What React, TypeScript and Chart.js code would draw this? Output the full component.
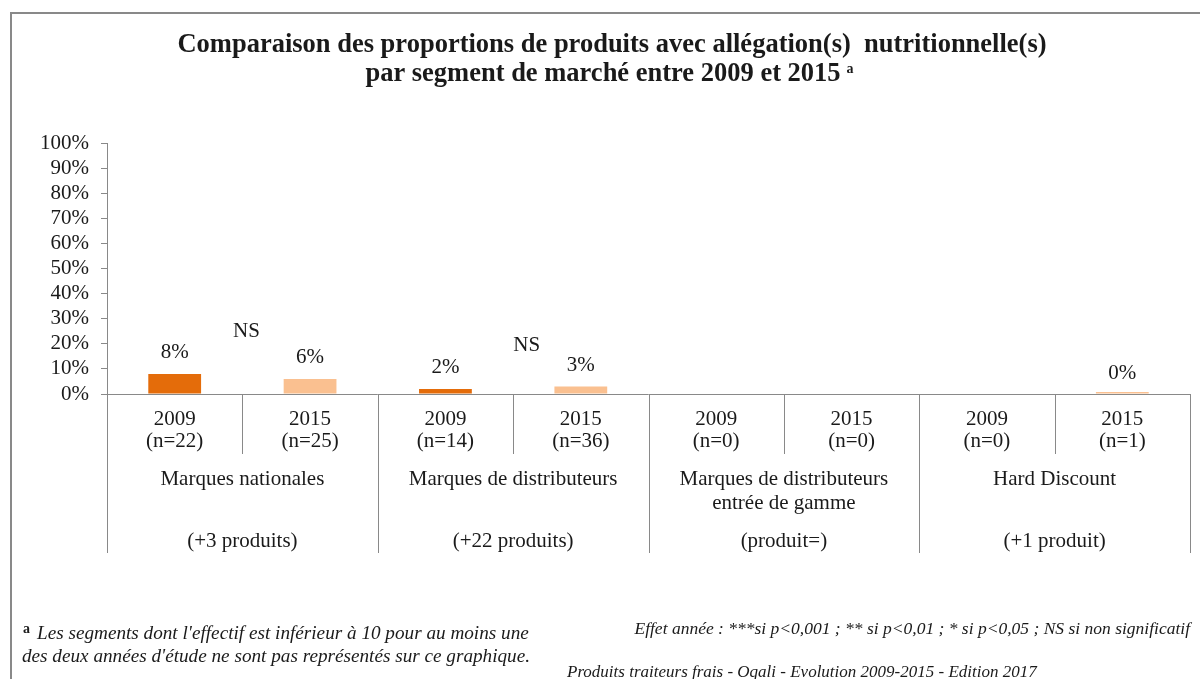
import React, { useEffect, useRef } from "react";
import { Chart, registerables } from "chart.js";

Chart.register(...registerables);

const categories = ["2009", "2015", "2009", "2015", "2009", "2015", "2009", "2015"];
const sampleSizes = ["(n=22)", "(n=25)", "(n=14)", "(n=36)", "(n=0)", "(n=0)", "(n=0)", "(n=1)"];
const values: (number | null)[] = [8, 6, 2, 3, null, null, null, 0];
const groupNames: string[][] = [
  ["Marques nationales"],
  ["Marques de distributeurs"],
  ["Marques de distributeurs", "entrée de gamme"],
  ["Hard Discount"],
];
const groupChanges = ["(+3 produits)", "(+22 produits)", "(produit=)", "(+1 produit)"];
const nsLabels = ["NS", "NS"];
const nsIndex = [0.53, 2.6];
const nsValue = [25, 19.5];
const yTickStep = 10;
const yMax = 100;

const DARK = "#E46C0A";
const LIGHT = "#FAC090";
const AXIS = "#898989";
const TEXT = "#1a1a1a";
const SERIF = "'Liberation Serif', serif";

const titleLines = [
  "Comparaison des proportions de produits avec allégation(s)  nutritionnelle(s)",
  "par segment de marché entre 2009 et 2015",
];
const footLeft = [
  "Les segments dont l'effectif est inférieur à 10 pour au moins une",
  "des deux années d'étude ne sont pas représentés sur ce graphique.",
];
const footRight = "Effet année : ***si p<0,001 ; ** si p<0,01 ; * si p<0,05 ; NS si non significatif";
const footSource = "Produits traiteurs frais - Oqali - Evolution 2009-2015 - Edition 2017";

const overlay = {
  id: "overlay",
  afterDraw(chart: any) {
    const ctx = chart.ctx;
    const x = chart.scales.x;
    const y = chart.scales.y;
    const area = chart.chartArea;
    const bottom = area.bottom;
    ctx.save();

    // border
    ctx.strokeStyle = AXIS;
    ctx.lineWidth = 2;
    ctx.beginPath();
    ctx.moveTo(11, 700);
    ctx.lineTo(11, 13);
    ctx.lineTo(1210, 13);
    ctx.stroke();

    // title
    ctx.fillStyle = TEXT;
    ctx.textBaseline = "middle";
    ctx.textAlign = "center";
    ctx.font = `bold 26.5px ${SERIF}`;
    ctx.fillText(titleLines[0], 612, 45);
    const w2 = ctx.measureText(titleLines[1]).width;
    ctx.fillText(titleLines[1], 603, 74);
    ctx.font = `bold 14px ${SERIF}`;
    ctx.textAlign = "left";
    ctx.fillText("a", 603 + w2 / 2 + 6, 69);

    // x axis line
    ctx.strokeStyle = AXIS;
    ctx.lineWidth = 1;
    ctx.beginPath();
    ctx.moveTo(area.left, bottom + 0.5);
    ctx.lineTo(area.right, bottom + 0.5);
    ctx.stroke();

    // separators
    const n = categories.length;
    for (let k = 0; k <= n; k++) {
      const px = Math.round(x.getPixelForValue(k - 0.5)) + 0.5;
      const len = k % 2 === 0 ? 159 : 60;
      ctx.beginPath();
      ctx.moveTo(px, bottom);
      ctx.lineTo(px, bottom + len);
      ctx.stroke();
    }

    // category labels
    ctx.fillStyle = TEXT;
    ctx.textAlign = "center";
    ctx.textBaseline = "middle";
    ctx.font = `21px ${SERIF}`;
    for (let i = 0; i < n; i++) {
      const px = x.getPixelForValue(i);
      ctx.fillText(categories[i], px, bottom + 25);
      ctx.fillText(sampleSizes[i], px, bottom + 47);
    }
    for (let g = 0; g < groupNames.length; g++) {
      const px = x.getPixelForValue(g * 2 + 0.5);
      groupNames[g].forEach((line, j) => ctx.fillText(line, px, bottom + 85 + j * 24));
      ctx.fillText(groupChanges[g], px, bottom + 147);
    }

    // data labels
    const meta = chart.getDatasetMeta(0);
    meta.data.forEach((bar: any, i: number) => {
      const v = values[i];
      if (v === null || v === undefined) return;
      const top = y.getPixelForValue(v);
      ctx.fillText(`${v}%`, bar.x, top - 21);
    });

    // NS annotations
    nsLabels.forEach((t, i) => {
      ctx.fillText(t, x.getPixelForValue(nsIndex[i]), y.getPixelForValue(nsValue[i]));
    });

    // footnotes
    ctx.textAlign = "left";
    ctx.font = `bold 14px ${SERIF}`;
    ctx.fillText("a", 23, 629);
    ctx.font = `italic 19.2px ${SERIF}`;
    ctx.fillText(footLeft[0], 37, 634);
    ctx.fillText(footLeft[1], 22, 657);
    ctx.textAlign = "right";
    ctx.font = `italic 17.5px ${SERIF}`;
    ctx.fillText(footRight, 1190, 629);
    ctx.textAlign = "left";
    ctx.font = `italic 17px ${SERIF}`;
    ctx.fillText(footSource, 567, 673);

    ctx.restore();
  },
};

export default function App() {
  const ref = useRef<HTMLCanvasElement | null>(null);
  useEffect(() => {
    if (!ref.current) return;
    const chart = new Chart(ref.current, {
      type: "bar",
      data: {
        labels: categories.map((c, i) => `${c} ${sampleSizes[i]}`),
        datasets: [
          {
            data: values as any,
            backgroundColor: categories.map((_, i) => (i % 2 === 0 ? DARK : LIGHT)),
            barPercentage: 0.39,
            categoryPercentage: 1,
            minBarLength: 2,
          },
        ],
      },
      plugins: [overlay],
      options: {
        animation: false,
        responsive: false,
        devicePixelRatio: 1,
        layout: { padding: { left: 0, right: 10, top: 143, bottom: 285 } },
        plugins: { legend: { display: false }, tooltip: { enabled: false }, title: { display: false } },
        scales: {
          x: { display: false, offset: true },
          y: {
            min: 0,
            max: yMax,
            afterFit: (s: any) => {
              s.width = 107;
            },
            ticks: {
              stepSize: yTickStep,
              autoSkip: false,
              padding: 12,
              color: TEXT,
              font: { family: SERIF, size: 21 },
              callback: (v: any) => `${v}%`,
            },
            grid: { display: true, drawOnChartArea: false, drawTicks: true, tickLength: 6, color: AXIS },
            border: { display: true, color: AXIS },
          },
        },
      },
    });
    return () => chart.destroy();
  }, []);
  return (
    <div style={{ position: "fixed", left: 0, top: 0, width: 1200, height: 679, background: "#fff" }}>
      <canvas ref={ref} width={1200} height={679} style={{ display: "block" }} />
    </div>
  );
}
